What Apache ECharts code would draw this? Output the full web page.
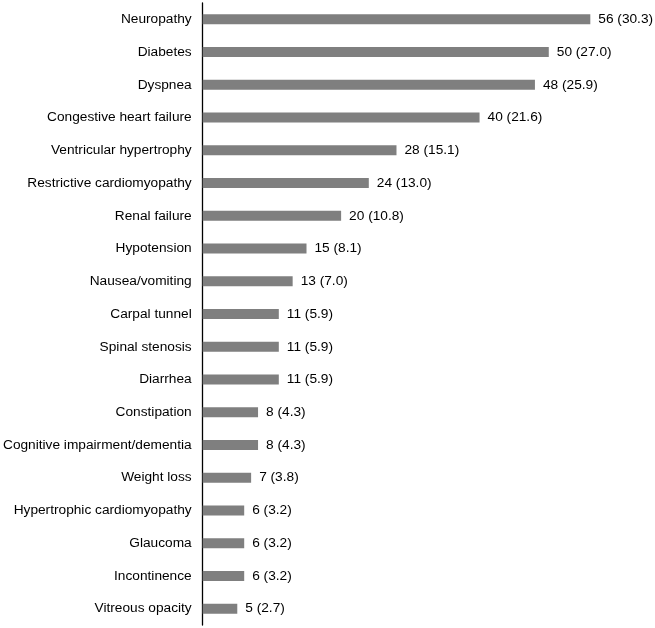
<!DOCTYPE html>
<html><head><meta charset="utf-8">
<script src="https://cdn.jsdelivr.net/npm/echarts@6/dist/echarts.min.js"></script>
<style>html,body{margin:0;padding:0;background:#fff}#c{width:655px;height:628px}</style>
</head><body><div id="c"></div>
<script>
const categories = ["Neuropathy","Diabetes","Dyspnea","Congestive heart failure","Ventricular hypertrophy","Restrictive cardiomyopathy","Renal failure","Hypotension","Nausea/vomiting","Carpal tunnel","Spinal stenosis","Diarrhea","Constipation","Cognitive impairment/dementia","Weight loss","Hypertrophic cardiomyopathy","Glaucoma","Incontinence","Vitreous opacity"];
const counts = [56,50,48,40,28,24,20,15,13,11,11,11,8,8,7,6,6,6,5];
const percents = ["30.3","27.0","25.9","21.6","15.1","13.0","10.8","8.1","7.0","5.9","5.9","5.9","4.3","4.3","3.8","3.2","3.2","3.2","2.7"];

const chart = echarts.init(document.getElementById('c'));
chart.setOption({
  animation:false,
  grid:{left:202,right:37,top:3,bottom:3,containLabel:false},
  xAxis:{type:'value',min:0,max:60,show:false},
  yAxis:{type:'category',inverse:true,data:categories,
    axisLine:{lineStyle:{color:'#000',width:1.3}},
    axisTick:{show:false},
    axisLabel:{color:'#000',fontFamily:'Liberation Sans',fontSize:13.7,margin:11}
  },
  series:[{type:'bar',barWidth:10,data:counts,
    itemStyle:{color:'#7f7f7f'},
    label:{show:true,position:'right',distance:8,color:'#000',fontFamily:'Liberation Sans',fontSize:13.7,
      formatter:p=>counts[p.dataIndex]+' ('+percents[p.dataIndex]+')'}
  }]
});
</script></body></html>
